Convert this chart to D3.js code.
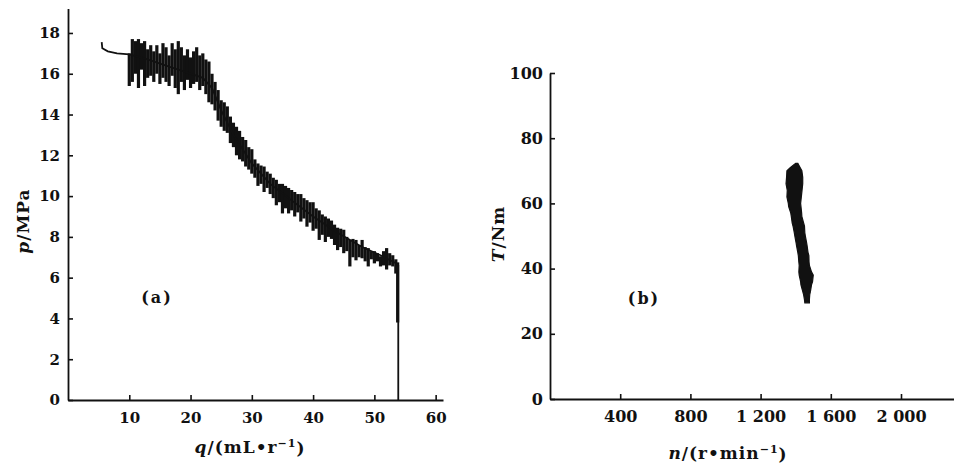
<!DOCTYPE html>
<html>
<head>
<meta charset="utf-8" />
<title>p-q and T-n curves</title>
<style>
body { margin: 0; background: #fff; }
svg { display: block; }
.tick text, .lbl { font-family: "DejaVu Serif", "Liberation Serif", serif; fill: #111; }
.domain, .tick line { stroke: #111; }
</style>
</head>
<body>
<div id="chart"></div>
<script src="https://d3js.org/d3.v7.min.js"></script>
<script>

// (a) pressure p vs displacement q : noisy trace
var qBars = [10.0,10.5,11.0,11.5,12.0,12.5,13.0,13.5,14.0,14.5,15.0,15.5,16.0,16.5,17.0,17.5,18.0,18.5,19.0,19.5,
             20.0,20.5,21.0,21.5,22.0,22.5,23.0,23.5,24.0,24.5,25.0,25.5,26.0,26.5,27.0,27.5,28.0,28.5,29.0,29.5,
             30.0,30.5,31.0,31.5,32.0,32.5,33.0,33.5,34.0,34.5,35.0,35.5,36.0,36.5,37.0,37.5,38.0,38.5,39.0,39.5,
             40.0,40.5,41.0,41.5,42.0,42.5,43.0,43.5,44.0,44.5,45.0,45.5,46.0,46.5,47.0,47.5,48.0,48.5,49.0,49.5,
             50.0,50.5,51.0,51.5,52.0,52.5,53.0,53.5,53.8];
var pTop = [17.0,17.7,17.6,17.7,17.5,17.6,17.2,17.4,17.1,17.4,17.0,17.5,17.3,16.9,17.5,17.2,17.6,17.3,16.9,17.2,
            16.8,17.1,17.3,16.9,17.0,16.7,16.6,16.0,15.6,15.2,14.7,14.6,14.4,13.9,13.6,13.4,13.2,12.9,12.75,12.4,
            12.3,11.8,11.6,11.5,11.45,11.2,11.1,10.9,10.8,10.6,10.6,10.5,10.4,10.3,10.2,10.1,10.1,9.9,9.8,9.7,
            9.7,9.4,9.3,9.1,9.0,8.9,8.8,8.6,8.45,8.4,8.35,8.0,7.85,7.9,7.85,7.6,7.85,7.5,7.45,7.3,
            7.3,7.2,7.05,7.3,7.45,7.2,7.1,6.9,6.75];
var pBot = [15.4,15.6,16.0,15.3,16.2,15.4,15.8,15.9,15.6,16.0,15.5,15.8,15.6,15.4,15.9,15.3,15.0,15.6,15.2,15.7,
            15.3,15.5,15.6,15.2,15.4,15.0,14.6,14.5,14.2,13.7,13.4,13.2,13.1,12.6,12.4,12.0,11.8,11.7,11.45,11.3,
            11.1,10.9,10.5,10.6,10.2,10.4,10.1,9.9,9.55,9.7,9.15,9.4,9.15,9.3,9.0,9.2,8.75,8.9,8.5,8.7,
            8.3,8.4,7.85,8.1,7.75,8.0,7.9,7.6,7.35,7.5,7.2,7.3,6.55,7.0,6.85,7.0,6.95,6.8,6.55,6.9,
            6.7,6.8,6.55,6.6,6.4,6.6,6.55,6.2,3.8];
// mean line through the trace, ending with the drop to zero
var qLine = [5.5,5.6,6.5,8,10,13,16,19,22,23.5,25,27,30,33,36,40,44,48,51,53.6,53.9,53.9];
var pLine = [17.55,17.25,17.1,17.0,16.95,16.7,16.4,16.1,15.8,15.3,14.2,13.0,11.6,10.6,9.9,9.0,8.2,7.5,7.1,6.7,6.6,0];
var qTicks = [10,20,30,40,50,60];
var pTicks = [0,2,4,6,8,10,12,14,16,18];

// (b) torque T vs speed n : outline of the point cloud
var tCloud = [72.3,71,70,68,66,64,62,60,59,57,56,54,53,51,50,48,47,45,44,42,41,39,38,36,35,33,32,30.5,29.5];
var nLeft  = [1400,1370,1350,1348,1345,1352,1350,1358,1360,1372,1375,1380,1385,1392,1395,1402,1405,1412,1415,1418,1420,1418,1420,1428,1430,1440,1445,1450,1452];
var nRight = [1412,1425,1435,1440,1440,1436,1432,1428,1430,1434,1435,1445,1450,1452,1455,1462,1465,1470,1475,1476,1478,1490,1500,1496,1490,1484,1480,1478,1478];
var nTicks = [400,800,1200,1600,2000];
var nTickLabels = ["400","800","1 200","1 600","2 000"];
var tTicks = [0,20,40,60,80,100];

var width = 954, height = 464;

var svg = d3.select("#chart").append("svg")
    .attr("width", width)
    .attr("height", height);

// ---------- chart (a) ----------
var xA = d3.scaleLinear().domain([0, 61.2]).range([68, 443]);
var yA = d3.scaleLinear().domain([0, 19.2]).range([400, 8.5]);

var gxA = svg.append("g")
    .attr("transform", "translate(0,400)")
    .call(d3.axisBottom(xA).tickValues(qTicks).tickSize(-5).tickSizeOuter(0).tickPadding(12));
var gyA = svg.append("g")
    .attr("transform", "translate(68,0)")
    .call(d3.axisLeft(yA).tickValues(pTicks).tickSize(-5).tickSizeOuter(0).tickPadding(8));

var gA = svg.append("g");
gA.selectAll("line.bar")
    .data(qBars)
    .enter().append("line")
    .attr("class", "bar")
    .attr("x1", d => xA(d))
    .attr("x2", d => xA(d))
    .attr("y1", (d, i) => yA(pTop[i]))
    .attr("y2", (d, i) => yA(pBot[i]))
    .style("stroke", "#111")
    .style("stroke-width", 3.2);

var lineA = d3.line()
    .x((d, i) => xA(qLine[i]))
    .y((d, i) => yA(pLine[i]));
gA.append("path")
    .attr("d", lineA(qLine))
    .style("fill", "none")
    .style("stroke", "#111")
    .style("stroke-width", 1.8);

// ---------- chart (b) ----------
var xB = d3.scaleLinear().domain([0, 2302]).range([550, 954]);
var yB = d3.scaleLinear().domain([0, 100]).range([399, 73]);

var gxB = svg.append("g")
    .attr("transform", "translate(0,399)")
    .call(d3.axisBottom(xB).tickValues(nTicks).tickFormat((d, i) => nTickLabels[i])
        .tickSize(-5).tickSizeOuter(0).tickPadding(12));
var gyB = svg.append("g")
    .attr("transform", "translate(550,0)")
    .call(d3.axisLeft(yB).tickValues(tTicks).tickSize(-5).tickSizeOuter(0).tickPadding(7));

var cloud = d3.area()
    .y((d, i) => yB(tCloud[i]))
    .x0((d, i) => xB(nLeft[i]))
    .x1((d, i) => xB(nRight[i]));
svg.append("path")
    .attr("d", cloud(tCloud))
    .style("fill", "#111")
    .style("stroke", "#111")
    .style("stroke-width", 1.2);

// axis styling
svg.selectAll(".domain").style("stroke-width", 1.8);
svg.selectAll(".tick line").style("stroke-width", 1.6);
gxA.selectAll(".tick text").style("font-size", "15px").style("font-weight", "bold");
gyA.selectAll(".tick text").style("font-size", "15px").style("font-weight", "bold");
gxB.selectAll(".tick text").style("font-size", "16px").style("font-weight", "bold");
gyB.selectAll(".tick text").style("font-size", "16px").style("font-weight", "bold");

// labels
function axisTitle(x, y, rot, size, parts) {
    var t = svg.append("text")
        .attr("class", "lbl")
        .attr("text-anchor", "middle")
        .attr("transform", "translate(" + x + "," + y + ")" + (rot ? " rotate(" + rot + ")" : ""))
        .style("font-size", size + "px")
        .style("font-weight", "bold")
        .style("letter-spacing", "1px");
    parts.forEach(function(p) {
        var s = t.append("tspan").text(p.t);
        if (p.it) s.style("font-style", "italic");
        if (p.sup) s.style("font-size", (size * 0.65) + "px").attr("dy", "-0.55em");
        if (p.down) s.attr("dy", "0.4em");
    });
    return t;
}

axisTitle(250, 453, 0, 17, [{t: "q", it: true}, {t: "/(mL\u2022r"}, {t: "\u22121", sup: true}, {t: ")", down: true}]);
axisTitle(29, 221, -90, 17, [{t: "p", it: true}, {t: "/MPa"}]);
axisTitle(728, 459, 0, 17, [{t: "n", it: true}, {t: "/(r\u2022min"}, {t: "\u22121", sup: true}, {t: ")", down: true}]);
axisTitle(504, 234, -90, 17, [{t: "T", it: true}, {t: "/Nm"}]);

svg.append("text").attr("class", "lbl")
    .attr("x", 157).attr("y", 303).attr("text-anchor", "middle")
    .style("font-size", "16px").style("font-weight", "bold").style("letter-spacing", "2px")
    .text("(a)");
svg.append("text").attr("class", "lbl")
    .attr("x", 644).attr("y", 304).attr("text-anchor", "middle")
    .style("font-size", "16px").style("font-weight", "bold").style("letter-spacing", "2px")
    .text("(b)");

</script>
</body>
</html>
